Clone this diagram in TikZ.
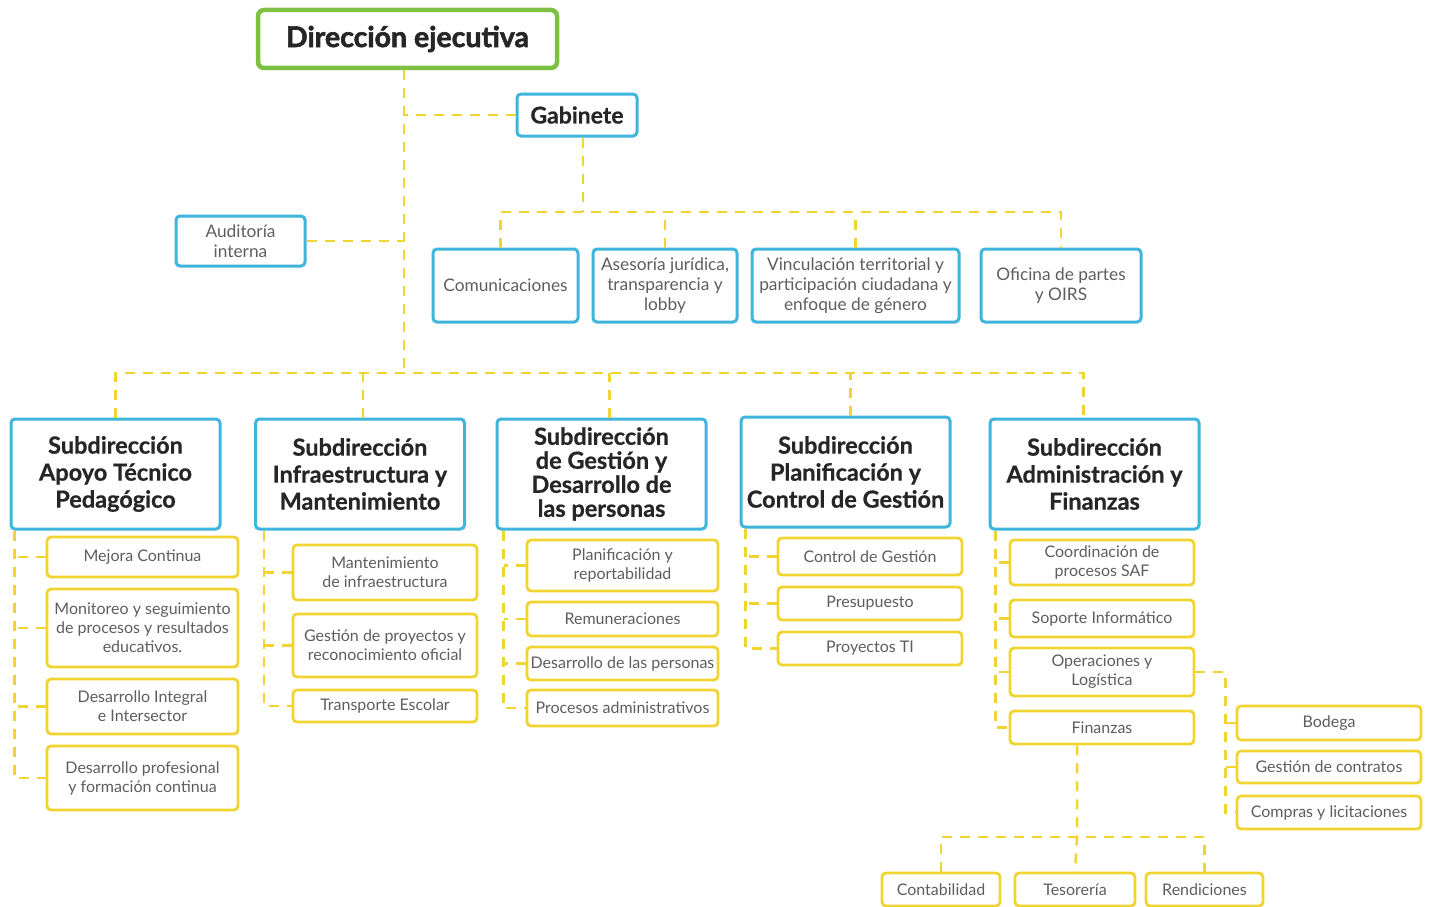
\documentclass[tikz,border=0pt]{standalone}
\usepackage{fontspec}
\setmainfont{Lato}
\newfontfamily\heavyfont[BoldFeatures={FakeBold=2}]{Lato}
\newfontfamily\semiheavy[BoldFeatures={FakeBold=0.7}]{Lato}
\definecolor{ylw}{HTML}{F2D430}
\definecolor{blu}{HTML}{3FB4DC}
\definecolor{grn}{HTML}{7DC142}
\definecolor{dtxt}{HTML}{262626}
\definecolor{ltxt}{HTML}{5E5E5E}
\begin{document}
\begin{tikzpicture}[x=1pt,y=-1pt,
 link/.style={draw=ylw, line width=2.5pt, dash pattern=on 10pt off 8pt},
 dirbox/.style={draw=grn, line width=4.5pt, rounded corners=6pt, fill=white, inner sep=0pt, text=dtxt, font=\heavyfont\fontsize{28.5}{32}\selectfont\bfseries},
 gabbox/.style={draw=blu, line width=3pt, rounded corners=4pt, fill=white, inner sep=0pt, text=dtxt, font=\semiheavy\fontsize{23}{26}\selectfont\bfseries},
 subbox/.style={draw=blu, line width=3pt, rounded corners=4pt, fill=white, inner sep=0pt, align=center, text=dtxt, font=\semiheavy\fontsize{23.5}{27}\selectfont\bfseries, minimum width=209pt, minimum height=110pt},
 topbox/.style={draw=blu, line width=3pt, rounded corners=4pt, fill=white, inner sep=0pt, align=center, text=ltxt, font=\fontsize{17.3}{20}\selectfont, minimum height=73pt},
 ybox/.style={draw=ylw, line width=2.8pt, rounded corners=4pt, fill=white, inner sep=0pt, align=center, text=ltxt, font=\fontsize{16}{19}\selectfont},
]
\useasboundingbox (0,0) rectangle (1429,907);
\fill[white] (0,0) rectangle (1429,907);

% top level
\node[dirbox, minimum width=299pt, minimum height=58pt] (dir) at (407.5,39) {Dirección ejecutiva};
\node[gabbox, minimum width=120pt, minimum height=42pt] (gab) at (577,115) {Gabinete};
\node[topbox, minimum width=129pt, minimum height=50pt] (aud) at (240.5,241) {Auditoría\\interna};
\node[topbox, minimum width=145pt] (com) at (505.5,285.5) {Comunicaciones};
\node[topbox, minimum width=144pt] (ase) at (665,285.5) {Asesoría jurídica,\\transparencia y\\lobby};
\node[topbox, minimum width=207pt] (vin) at (855.5,285.5) {Vinculación territorial y\\participación ciudadana y\\enfoque de género};
\node[topbox, minimum width=160pt] (ofi) at (1061,285.5) {Oficina de partes\\y OIRS};

% subdirecciones
\node[subbox] (s1) at (115.5,474) {Subdirección\\Apoyo Técnico\\Pedagógico};
\node[subbox] (s2) at (360,474) {Subdirección\\Infraestructura y\\Mantenimiento};
\node[subbox, font=\semiheavy\fontsize{23.5}{24}\selectfont\bfseries] (s3) at (601.5,474) {Subdirección\\de Gestión y\\Desarrollo de\\las personas};
\node[subbox] (s4) at (845.5,472) {Subdirección\\Planificación y\\Control de Gestión};
\node[subbox] (s5) at (1094.5,474) {Subdirección\\Administración y\\Finanzas};

% column 1
\node[ybox, minimum width=191pt, minimum height=40pt] (c11) at (142.5,557) {Mejora Continua};
\node[ybox, minimum width=191pt, minimum height=78pt] (c12) at (142.5,628) {Monitoreo y seguimiento\\de procesos y resultados\\educativos.};
\node[ybox, minimum width=191pt, minimum height=55pt] (c13) at (142.5,706.5) {Desarrollo Integral\\e Intersector};
\node[ybox, minimum width=191pt, minimum height=64pt] (c14) at (142.5,778) {Desarrollo profesional\\y formación continua};

% column 2
\node[ybox, minimum width=184pt, minimum height=55pt] (c21) at (385,572.5) {Mantenimiento\\de infraestructura};
\node[ybox, minimum width=184pt, minimum height=63pt] (c22) at (385,645.5) {Gestión de proyectos y\\reconocimiento oficial};
\node[ybox, minimum width=184pt, minimum height=32pt] (c23) at (385,706) {Transporte Escolar};

% column 3
\node[ybox, minimum width=191pt, minimum height=51pt] (c31) at (622.5,565.5) {Planificación y\\reportabilidad};
\node[ybox, minimum width=191pt, minimum height=34pt] (c32) at (622.5,619) {Remuneraciones};
\node[ybox, minimum width=191pt, minimum height=33pt] (c33) at (622.5,663.5) {Desarrollo de las personas};
\node[ybox, minimum width=191pt, minimum height=36pt] (c34) at (622.5,708) {Procesos administrativos};

% column 4
\node[ybox, minimum width=184pt, minimum height=37pt] (c41) at (870,556.5) {Control de Gestión};
\node[ybox, minimum width=184pt, minimum height=33pt] (c42) at (870,603.5) {Presupuesto};
\node[ybox, minimum width=184pt, minimum height=33pt] (c43) at (870,648.5) {Proyectos TI};

% column 5
\node[ybox, minimum width=184pt, minimum height=45pt] (c51) at (1102,562.5) {Coordinación de\\procesos SAF};
\node[ybox, minimum width=184pt, minimum height=37pt] (c52) at (1102,618.5) {Soporte Informático};
\node[ybox, minimum width=184pt, minimum height=48pt] (c53) at (1102,672) {Operaciones y\\Logística};
\node[ybox, minimum width=184pt, minimum height=33pt] (c54) at (1102,727.5) {Finanzas};

% column 6
\node[ybox, minimum width=184pt, minimum height=34pt] (c61) at (1329,723) {Bodega};
\node[ybox, minimum width=184pt, minimum height=32pt] (c62) at (1329,767) {Gestión de contratos};
\node[ybox, minimum width=184pt, minimum height=33pt] (c63) at (1329,812.5) {Compras y licitaciones};

% bottom
\node[ybox, minimum width=118pt, minimum height=33pt] (b1) at (941,889.5) {Contabilidad};
\node[ybox, minimum width=120pt, minimum height=33pt] (b2) at (1075,889.5) {Tesorería};
\node[ybox, minimum width=117pt, minimum height=33pt] (b3) at (1204.5,889.5) {Rendiciones};

% coordinates
\coordinate (mbus) at (404,373);
\coordinate (gbus) at (583,212);
\coordinate (fbus) at (1077,837);
\coordinate (dtop) at ([xshift=-3.5pt]dir.south);
\coordinate (t1) at ([xshift=5pt]s1.south west);
\coordinate (t2) at ([xshift=10pt]s2.south west);
\coordinate (t3) at ([xshift=8pt]s3.south west);
\coordinate (t4) at ([xshift=6pt]s4.south west);
\coordinate (t5) at ([xshift=7pt]s5.south west);
\coordinate (t6) at ([xshift=30pt]c53.east);

% links top
\draw[link] (dtop) -- (dtop |- mbus);
\draw[link] (gab.west) -- (gab.west -| dtop);
\draw[link] (aud.east) -- (aud.east -| dtop);
\draw[link] ([xshift=6pt]gab.south) -- ([xshift=6pt]gab.south |- gbus);
\draw[link] ([xshift=-5pt]com.north) -- ([xshift=-5pt]com.north |- gbus) -- (ofi.north |- gbus) -- (ofi.north);
\draw[link] (ase.north) -- (ase.north |- gbus);
\draw[link] (vin.north) -- (vin.north |- gbus);

% main bus
\draw[link] (s1.north) -- (s1.north |- mbus) -- ([xshift=-11pt]s5.north |- mbus) -- ([xshift=-11pt]s5.north);
\draw[link] ([xshift=3pt]s2.north) -- ([xshift=3pt]s2.north |- mbus);
\draw[link] ([xshift=8pt]s3.north) -- ([xshift=8pt]s3.north |- mbus);
\draw[link] ([xshift=5pt]s4.north) -- ([xshift=5pt]s4.north |- mbus);

% column links
\draw[link] (t1) |- (c14.west);
\draw[link] (c11.west) -- (c11.west -| t1);
\draw[link] (c12.west) -- (c12.west -| t1);
\draw[link] (c13.west) -- (c13.west -| t1);

\draw[link] (t2) |- (c23.west);
\draw[link] (c21.west) -- (c21.west -| t2);
\draw[link] (c22.west) -- (c22.west -| t2);

\draw[link] (t3) |- (c34.west);
\draw[link] (c31.west) -- (c31.west -| t3);
\draw[link] (c32.west) -- (c32.west -| t3);
\draw[link] (c33.west) -- (c33.west -| t3);

\draw[link] (t4) |- (c43.west);
\draw[link] (c41.west) -- (c41.west -| t4);
\draw[link] (c42.west) -- (c42.west -| t4);

\draw[link] (t5) |- (c54.west);
\draw[link] (c51.west) -- (c51.west -| t5);
\draw[link] (c52.west) -- (c52.west -| t5);
\draw[link] (c53.west) -- (c53.west -| t5);

\draw[link] (c53.east) -- (t6) |- (c63.west);
\draw[link] (c61.west) -- (c61.west -| t6);
\draw[link] (c62.west) -- (c62.west -| t6);

% finanzas
\draw[link] (fbus |- c54.south) -- (fbus) -- (b2.north);
\draw[link] (b1.north) -- (b1.north |- fbus) -- (b3.north |- fbus) -- (b3.north);
\end{tikzpicture}
\end{document}
